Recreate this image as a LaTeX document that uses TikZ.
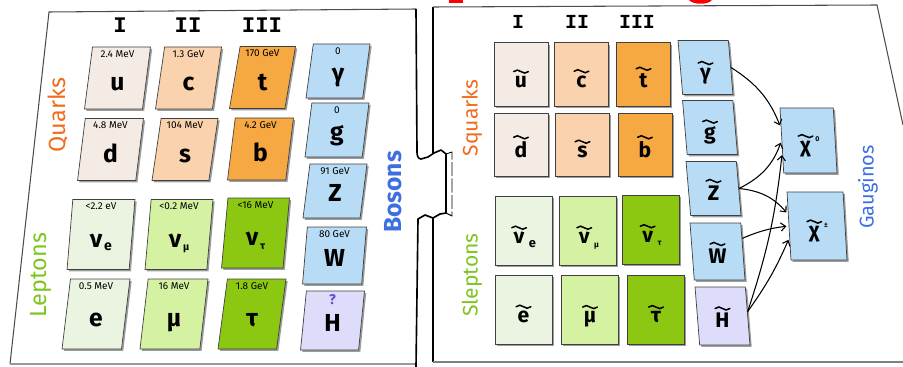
\documentclass[tikz,border=0pt]{standalone}
\usepackage{fontspec}
\setmainfont{Fira Sans}
\newfontfamily\genfont{Liberation Mono}
\usetikzlibrary{arrows.meta,positioning,shadows,shapes.geometric}
\definecolor{QuarkI}{HTML}{F4ECE4}
\definecolor{QuarkII}{HTML}{FAD2AE}
\definecolor{QuarkIII}{HTML}{F6A843}
\definecolor{LepI}{HTML}{EAF4E0}
\definecolor{LepII}{HTML}{D5F2A2}
\definecolor{LepIII}{HTML}{8CC812}
\definecolor{BosonClr}{HTML}{B9DCF6}
\definecolor{HiggsClr}{HTML}{DDDCFA}
\definecolor{QuarkTxt}{HTML}{F26B1D}
\definecolor{LepTxt}{HTML}{7DC51F}
\definecolor{BosonTxt}{HTML}{3D6FE0}
\definecolor{HiggsQ}{HTML}{5A4FD6}
\newcommand\lsub[2][12]{\kern1.5pt\raisebox{-3pt}{\fontsize{#1}{#1}\selectfont #2}}
\newcommand\rsup[1]{\kern1.5pt\raisebox{9pt}{\fontsize{6}{6}\selectfont #1}}
\newcommand\tl[1]{\vbox{\offinterlineskip\halign{\hfil##\hfil\cr
  \raisebox{2pt}[0pt][0pt]{\tikz\draw[line width=1.3pt,line cap=round] (0cm,0cm)
    sin (0.11cm,0.045cm) cos (0.22cm,0cm) sin (0.33cm,-0.045cm) cos (0.44cm,0cm);}\cr
  #1\cr}}}

\begin{document}
\begin{tikzpicture}[x=0.03cm,y=-0.03cm,
  box/.style={draw=black!75,line width=.6pt,fill=#1,text height=22pt,text depth=0pt,
    inner sep=0pt,drop shadow={shadow xshift=1.5pt,shadow yshift=-1.5pt,fill=black!70,opacity=.55}},
  lbox/.style={box=#1,trapezium,trapezium stretches=true,trapezium left angle=85,
    trapezium right angle=95,minimum width=1.98cm,minimum height=1.86cm,
    font=\fontsize{21}{21}\selectfont\bfseries},
  llep/.style={lbox=#1,minimum width=2.04cm,minimum height=2.1cm},
  lbos/.style={lbox=BosonClr,minimum width=1.92cm,minimum height=1.62cm,text height=18pt},
  rbox/.style={box=#1,minimum width=1.62cm,minimum height=1.9cm,
    font=\fontsize{18}{18}\selectfont\bfseries},
  rlep/.style={rbox=#1,minimum width=1.71cm,minimum height=2.07cm},
  rbos/.style={rbox=#1,trapezium,trapezium stretches=true,trapezium left angle=94,
    trapezium right angle=86,minimum width=1.65cm,minimum height=1.62cm,text height=20pt},
  mass/.style={anchor=north,font=\fontsize{8.5}{9}\selectfont,inner sep=1pt,yshift=-2pt},
  gen/.style={font=\genfont\bfseries\fontsize{19}{19}\selectfont},
  grp/.style={rotate=90,text=#1,font=\fontsize{20}{20}\selectfont},
  edge/.style={draw=black!70,line width=.9pt},
  torn/.style={draw=black,line width=1.4pt,line join=round},
  flow/.style={-{Straight Barb[length=4pt,width=7pt]},line width=.9pt,shorten >=2pt}]
\useasboundingbox (0,0) rectangle (903,367);

\fill[red] (449,0) rectangle (463,3);
\fill[red] (689,0) .. controls (693,5) and (708,5) .. (712,0) -- cycle;

\draw[edge] (10,364) -- (49,12) -- (416,9);
\draw[edge,draw=black!40] (10,364) -- (416,364);
\draw[torn] (416,9) -- (417,152) to[out=-90,in=180] (421,159) -- (428,157) -- (434,153)
  -- (441,150) -- (446,154) -- (446,213) -- (440,214) -- (433,218) -- (425,215)
  -- (418,219) -- (416,367);
\draw[torn] (433,7) -- (433,153);
\draw[torn,line width=.8pt,dash pattern=on 12pt off 2pt] (446,154) -- (452,152) -- (452,216) -- (446,213);
\draw[torn] (433,218) -- (433,362);
\draw[edge] (433,7) -- (877,5) -- (903,125);
\draw[edge,draw=black!50] (433,362) -- (903,362);

\node[gen] (gI) at (120,25) {I};
\node[gen] (gII) at (188,25) {II};
\node[gen] (gIII) at (262,25) {III};

\node[grp=QuarkTxt] (quarks) at (58,115) {Quarks};
\node[grp=LepTxt] (leptons) at (41,275) {Leptons};
\node[grp=BosonTxt,font=\fontsize{21}{21}\selectfont\bfseries] (bosons) at (393,192) {Bosons};

\node[lbox=QuarkI,label={[mass]north:2.4 MeV}] (u) at (117.5,78) {u};
\node[lbox=QuarkII,label={[mass]north:1.3 GeV}] (c) at (188.5,78) {c};
\node[lbox=QuarkIII,label={[mass]north:170 GeV}] (t) at (262.5,77.5) {t};
\node[lbox=QuarkI,label={[mass]north:4.8 MeV}] (d) at (110.5,149.5) {d};
\node[lbox=QuarkII,label={[mass]north:104 MeV}] (s) at (185,149.5) {s};
\node[lbox=QuarkIII,label={[mass]north:4.2 GeV}] (b) at (260.5,149) {b};

\node[llep=LepI,label={[mass]north:<2.2 eV}] (ne) at (101,234.5) {ν\lsub{e}};
\node[llep=LepII,label={[mass]north:<0.2 MeV}] (nm) at (179,234.5) {ν\lsub[9]{μ}};
\node[llep=LepIII,label={[mass]north:<16 MeV}] (nt) at (255.5,233) {ν\lsub[9]{τ}};
\node[llep=LepI,label={[mass]north:0.5 MeV}] (e) at (96,314) {e};
\node[llep=LepII,label={[mass]north:16 MeV}] (mu) at (174,314) {μ};
\node[llep=LepIII,label={[mass]north:1.8 GeV}] (tau) at (252,314) {τ};

\node[lbos,label={[mass]north:0}] (gam) at (338,71) {γ};
\node[lbos,label={[mass]north:0}] (glu) at (337,130) {g};
\node[lbos,label={[mass]north:91 GeV}] (Z) at (335,191) {Z};
\node[lbos,minimum height=1.71cm,label={[mass]north:80 GeV}] (W) at (334.5,255.5) {W};
\node[lbos,fill=HiggsClr,minimum height=1.77cm,
  label={[mass,text=HiggsQ,font=\bfseries\fontsize{12}{12}\selectfont]north:?}] (H) at (332.5,320.5) {H};

\node[gen,font=\genfont\bfseries\fontsize{17}{17}\selectfont] (sgI) at (518,22) {I};
\node[gen,font=\genfont\bfseries\fontsize{17}{17}\selectfont] (sgII) at (577,22) {II};
\node[gen,font=\genfont\bfseries\fontsize{17}{17}\selectfont] (sgIII) at (637,22) {III};

\node[grp=QuarkTxt,font=\fontsize{18}{18}\selectfont] (squarks) at (472,118) {Squarks};
\node[grp=LepTxt,font=\fontsize{18}{18}\selectfont] (sleptons) at (472,275) {Sleptons};
\node[grp=BosonTxt,font=\fontsize{17}{17}\selectfont] (gauginos) at (868,187) {Gauginos};

\node[rbox=QuarkI] (su) at (521,74.5) {\tl{u}};
\node[rbox=QuarkII] (sc) at (581.5,74.5) {\tl{c}};
\node[rbox=QuarkIII] (st) at (643.5,74.5) {\tl{t}};
\node[rbox=QuarkI] (sd) at (521,145) {\tl{d}};
\node[rbox=QuarkII] (ss) at (582.5,145) {\tl{s}};
\node[rbox=QuarkIII] (sb) at (645,145) {\tl{b}};

\node[rlep=LepI] (sne) at (523.5,231) {\tl{ν}\lsub[11]{e}};
\node[rlep=LepII] (snm) at (587.5,231) {\tl{ν}\lsub[7]{μ}};
\node[rlep=LepIII] (snt) at (650.5,229.5) {\tl{ν}\lsub[7]{τ}};
\node[rlep=LepI] (se) at (523.5,310) {\tl{e}};
\node[rlep=LepII] (smu) at (590,310) {\tl{μ}};
\node[rlep=LepIII] (stau) at (656,310) {\tl{τ}};

\node[rbos=BosonClr] (sgam) at (705.5,67.5) {\tl{γ}};
\node[rbos=BosonClr] (sglu) at (710,127.5) {\tl{g}};
\node[rbos=BosonClr] (sZ) at (713.5,188.5) {\tl{Z}};
\node[rbos=BosonClr,minimum height=1.71cm] (sW) at (717.5,251.5) {\tl{W}};
\node[rbos=HiggsClr,minimum height=1.74cm] (sH) at (722.5,316) {\tl{H}};

\node[rbos=BosonClr,minimum width=1.71cm,minimum height=1.95cm] (chiN) at (808.5,140.5) {\tl{χ}\rsup{0}};
\node[rbos=BosonClr,minimum width=1.8cm,minimum height=2.04cm] (chiC) at (817,226) {\tl{χ}\rsup{±}};

\draw[flow] (sgam.east) to[bend left=18] (chiN.155);
\draw[flow] (sZ.east) to[bend right=22] (chiN.180);
\draw[flow] (sZ.east) to[bend left=22] (chiC.158);
\draw[flow] (sW.28) to[bend left=8] (chiC.180);
\draw[flow] (sH.10) to[bend right=6] (chiN.205);
\draw[flow] (sH.10) to[bend right=6] (chiC.203);
\end{tikzpicture}
\end{document}
